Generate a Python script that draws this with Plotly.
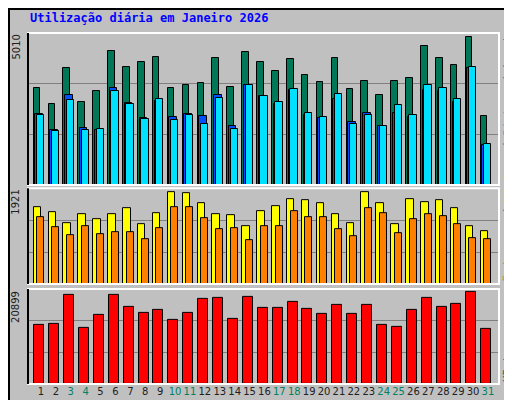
import plotly.graph_objects as go

days = list(range(1, 32))
weekend_days = [3, 4, 10, 11, 17, 18, 24, 25, 31]
hits = [3182,2654,3843,2720,3083,4404,3876,4041,4206,3182,3281,3347,4173,3215,4371,4041,3744,4140,3612,3380,4173,3149,3413,2951,3413,3512,4570,4173,3942,4867,2290]
files = [2356,1828,2951,1894,1828,3182,2687,2224,2753,2257,2356,2290,2951,1960,3281,2918,2654,3116,2323,2224,2819,2092,2389,1960,2389,2257,3116,3083,2720,3843,1332]
pages = [2323,1795,2786,1828,1861,3083,2654,2191,2819,2158,2323,2026,2852,1861,3281,2918,2720,3149,2389,2257,2984,2026,2323,1960,2621,2323,3281,3182,2819,3876,1365]
visits = [1545,1444,1222,1404,1303,1404,1525,1202,1424,1847,1827,1626,1404,1384,1162,1464,1565,1706,1686,1626,1404,1222,1847,1626,1202,1706,1646,1686,1525,1162,1061]
hosts = [1343,1142,981,1162,1001,1041,1041,900,1122,1545,1545,1323,1102,1122,880,1162,1162,1464,1343,1343,1102,961,1525,1424,1021,1303,1404,1364,1202,920,900]
kbytes = [13099,13320,19501,12437,15086,19501,16852,15528,16190,13982,15528,18618,18839,14203,19060,16631,16631,17956,16411,15307,17294,15307,17294,13099,12657,16190,18839,16852,17514,20164,12216]
max_hits = 5010
max_visits = 1921
max_kb = 20899
title = "Utilização diária em Janeiro 2026"

fig = go.Figure()
ln = dict(color="black", width=1)
def bar(y, color, off, w, ax):
    fig.add_trace(go.Bar(x=days, y=y, offset=off, width=w, marker=dict(color=color, line=ln),
                         xaxis="x", yaxis=ax, showlegend=False, hoverinfo="skip"))
bar(hits, "#007858", -0.49, 0.44, "y")
bar(files, "#0050ff", -0.38, 0.5, "y")
bar(pages, "#00e0ff", -0.27, 0.49, "y")
bar(visits, "#ffff00", -0.49, 0.5, "y2")
bar(hosts, "#ff8000", -0.25, 0.47, "y2")
bar(kbytes, "#ff0000", -0.45, 0.67, "y3")

ticktext = [f"<span style='color:{'#008060' if d in weekend_days else '#202020'}'>{d}</span>" for d in days]
yax = dict(showticklabels=False, gridcolor="#808080", gridwidth=1, zeroline=False, showline=False, ticks="")
fig.update_layout(
    width=512, height=400, margin=dict(l=20, r=21, t=25, b=24),
    paper_bgcolor="#c0c0c0", plot_bgcolor="#c0c0c0", barmode="overlay", bargap=0,
    font=dict(family="DejaVu Sans Mono", size=10, color="#202020"),
    xaxis=dict(range=[0.13, 31.74], tickvals=days, ticktext=ticktext, ticks="", showgrid=False,
               zeroline=False, anchor="y3", tickangle=0, tickfont=dict(size=10, family="DejaVu Sans")),
    yaxis=dict(domain=[0.567, 1], range=[0, max_hits], tickvals=[max_hits/3, 2*max_hits/3], **yax),
    yaxis2=dict(domain=[0.285, 0.558], range=[0, max_visits], tickvals=[max_visits/3, 2*max_visits/3], anchor="x", **yax),
    yaxis3=dict(domain=[0, 0.271], range=[0, max_kb], tickvals=[max_kb/3, 2*max_kb/3], anchor="x", **yax),
)
shapes = []
for d0, d1 in [(0.567, 1), (0.285, 0.558), (0, 0.271)]:
    shapes.append(dict(type="rect", xref="paper", yref="paper", x0=0, x1=1, y0=d0, y1=d1, line=dict(color="white", width=2)))
    shapes.append(dict(type="line", xref="paper", yref="paper", x0=0, x1=0, y0=d0, y1=d1, line=dict(color="black", width=2)))
shapes.append(dict(type="rect", xref="paper", yref="paper", x0=-19/471, x1=490/471, y0=-23/351, y1=1+24/351,
                   line=dict(color="black", width=2)))
shapes.append(dict(type="line", xref="paper", yref="paper", x0=-18/471, x1=489/471, y0=-21/351, y1=-21/351, line=dict(color="#808080", width=3)))
shapes.append(dict(type="line", xref="paper", yref="paper", x0=488/471, x1=488/471, y0=-21/351, y1=1+22/351, line=dict(color="#808080", width=3)))
fig.update_layout(shapes=shapes)

ann = [
    dict(text=f"<b>{title}</b>", x=0, y=1+15/351, xref="paper", yref="paper", xanchor="left", yanchor="middle",
         showarrow=False, font=dict(color="#0000ff", size=12, family="DejaVu Sans Mono")),
    dict(text=str(max_hits), x=-12/471, y=1, xref="paper", yref="paper", textangle=-90, xanchor="center", yanchor="top", showarrow=False, font=dict(size=10, family="DejaVu Sans")),
    dict(text=str(max_visits), x=-12/471, y=0.558, xref="paper", yref="paper", textangle=-90, xanchor="center", yanchor="top", showarrow=False, font=dict(size=10, family="DejaVu Sans")),
    dict(text=str(max_kb), x=-12/471, y=0.271, xref="paper", yref="paper", textangle=-90, xanchor="center", yanchor="top", showarrow=False, font=dict(size=10, family="DejaVu Sans")),
    dict(text="<span style='color:#ff8000'>Endereços</span> / <span style='color:#e0e000'>Visitas</span> / <span style='color:#00c0e0'>Páginas</span> / <span style='color:#4080c0'>Arquivos</span> / <span style='color:#008060'>Hits</span>",
         x=1+8/471, y=0.285, xref="paper", yref="paper", textangle=-90, xanchor="center", yanchor="bottom", showarrow=False,
         font=dict(size=11, color="#606060")),
    dict(text="KBytes", x=1+8/471, y=0, xref="paper", yref="paper", textangle=-90, xanchor="center", yanchor="bottom",
         showarrow=False, font=dict(size=11, color="#ff0000")),
]
fig.update_layout(annotations=ann)
fig.write_html("out.html")
